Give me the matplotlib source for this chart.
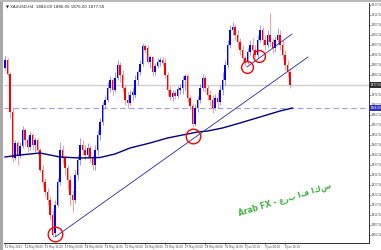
import os
import matplotlib
matplotlib.use('Agg')
import matplotlib.pyplot as plt
from matplotlib.patches import Rectangle
import matplotlib.transforms as mtransforms
from matplotlib.font_manager import FontProperties
from matplotlib.ft2font import FT2Font

symbol = "XAUUSD,H4"

opens = [1886, 1890, 1883, 1864, 1841, 1848.5, 1842, 1847, 1855, 1850,
         1846.5, 1852.5, 1847.5, 1850, 1845, 1835, 1829, 1824, 1820, 1812.5,
         1803.5, 1817.5, 1829, 1845, 1841, 1836, 1830, 1822.5, 1820, 1832.5,
         1840, 1847.5, 1845, 1842.5, 1846, 1841, 1837.5, 1845, 1852.5, 1859,
         1867.5, 1870, 1876, 1880, 1875, 1881, 1887.5, 1882.5, 1876, 1870,
         1868.5, 1872.5, 1872.5, 1880, 1884, 1888, 1897, 1896, 1889, 1891.5,
         1884, 1887, 1889, 1890, 1888.5, 1882.5, 1875, 1871.5, 1873.5, 1872,
         1875, 1876, 1880, 1882, 1871, 1867, 1858, 1866, 1870, 1876,
         1881, 1876, 1872.5, 1870, 1866, 1871, 1869, 1875, 1880, 1887.5,
         1897.5, 1905, 1906.5, 1902.5, 1899, 1895, 1891, 1889, 1894, 1897.5,
         1895, 1892.5, 1900, 1905, 1900, 1897.5, 1902.5, 1899, 1896, 1900,
         1902.5, 1897.5, 1892.5, 1887.5, 1884]
highs = [1892, 1891, 1884, 1866, 1850, 1849.5, 1849, 1857, 1856, 1852,
         1854, 1853.5, 1851.5, 1851, 1846, 1837.5, 1831, 1826, 1822, 1815,
         1820, 1831, 1849, 1847.5, 1842.5, 1837.5, 1832.5, 1825, 1835, 1842.5,
         1851, 1850, 1847.5, 1848.5, 1847.5, 1842.5, 1847.5, 1855, 1861, 1869,
         1872, 1879, 1882, 1881, 1884, 1890, 1889, 1885, 1877.5, 1874,
         1875, 1876, 1882.5, 1885, 1890, 1898.5, 1898, 1897.5, 1892.5, 1892,
         1888.5, 1891, 1891.5, 1891.5, 1891, 1884, 1877, 1875, 1875, 1877,
         1878, 1882, 1883, 1883, 1872.5, 1868.5, 1868, 1872, 1878, 1883,
         1882.5, 1877.5, 1875, 1872.5, 1873, 1874, 1877.5, 1884, 1890, 1900,
         1907.5, 1909, 1908, 1905, 1901, 1897.5, 1892.5, 1896, 1900, 1901,
         1897.5, 1902.5, 1907.5, 1906.5, 1902.5, 1905, 1913.5, 1901, 1902, 1906,
         1905, 1900, 1895, 1890, 1886]
lows = [1885, 1882, 1861, 1839, 1840, 1837.5, 1841, 1846, 1847.5, 1844,
        1845, 1845, 1844, 1842.5, 1834, 1826.5, 1822, 1817.5, 1810, 1801.5,
        1802, 1816.5, 1827.5, 1838.5, 1832.5, 1825, 1817.5, 1814, 1818.5, 1830,
        1837.5, 1842.5, 1840, 1841, 1839, 1835, 1835, 1842.5, 1850, 1857.5,
        1866, 1869, 1874, 1872.5, 1874, 1880, 1879, 1874, 1867.5, 1866,
        1867.5, 1870, 1871, 1877.5, 1882.5, 1887, 1893.5, 1888, 1886, 1882,
        1882.5, 1886, 1887, 1887, 1881, 1872.5, 1870, 1869.5, 1870.5, 1871,
        1873, 1873, 1875, 1869, 1865.5, 1856.5, 1857, 1864, 1868.5, 1874.5,
        1874, 1870, 1867, 1863.5, 1865, 1866, 1867.5, 1872.5, 1877.5, 1886,
        1896, 1902.5, 1900, 1896, 1892.5, 1889, 1887, 1888, 1892.5, 1892,
        1891, 1891, 1899, 1897.5, 1895, 1896, 1897, 1893.5, 1894, 1898,
        1895, 1890, 1885, 1881.5, 1876]
closes = [1890, 1883, 1864, 1841, 1848.5, 1842, 1847, 1855, 1850, 1846.5,
          1852.5, 1847.5, 1850, 1845, 1835, 1829, 1824, 1820, 1812.5, 1802.5,
          1817.5, 1829, 1845, 1841, 1836, 1830, 1822.5, 1820, 1832.5, 1840,
          1847.5, 1845, 1842.5, 1846, 1841, 1837.5, 1845, 1852.5, 1859, 1867.5,
          1870, 1876, 1880, 1875, 1881, 1887.5, 1882.5, 1876, 1870, 1868.5,
          1872.5, 1874, 1880, 1884, 1888, 1897, 1895, 1889, 1891.5, 1884,
          1887, 1889, 1890, 1888.5, 1882.5, 1875, 1871.5, 1873.5, 1872, 1875.5,
          1876, 1880, 1882, 1871, 1867, 1858, 1866, 1870, 1876, 1881,
          1876, 1872.5, 1870, 1866, 1871, 1869, 1875, 1880, 1887.5, 1897.5,
          1905, 1906.5, 1902.5, 1899, 1895, 1891, 1889, 1894, 1897.5, 1895,
          1892.5, 1900, 1905, 1900, 1897.5, 1902.5, 1899, 1896, 1900, 1902.5,
          1897.5, 1892.5, 1887.5, 1884, 1877.5]

# moving average readings (bar index, price)
ma_idx = [0, 6, 14, 22, 30, 38, 44, 50, 58, 65, 71, 77, 81, 87, 94, 102, 110, 115]
ma_val = [1841.5, 1842.5, 1843.5, 1841.5, 1841, 1841.25, 1843, 1846, 1848.5, 1851,
          1852.5, 1854, 1854.5, 1856, 1858.5, 1861.5, 1864.5, 1866]

# trend lines (bar index, price)
trend1_idx = [20, 121.2]
trend1_val = [1801.5, 1891.5]
trend2_idx = [96.8, 114.8]
trend2_val = [1886.5, 1903]

# circled points
circle_idx = [20, 75.2, 96.8, 101.6]
circle_val = [1803, 1852, 1886.5, 1892]

current_price = 1877.5
dashed_level = 1866.0

ytick_vals = [1917.5 - 5 * k for k in range(24)]
xtick_idx = [0, 8, 16, 24, 32, 40, 48, 56, 64, 72, 80, 88, 96, 104, 112]
xtick_labels = ["11 May 2021", "12 May 08:00", "13 May 16:00", "17 May 00:00",
                "18 May 08:00", "19 May 16:00", "21 May 00:00", "24 May 08:00",
                "25 May 16:00", "27 May 00:00", "28 May 08:00", "31 May 16:00",
                "2 Jun 00:00", "3 Jun 08:00", "4 Jun 16:00"]

watermark = "Arab FX - عرب اف اكس"

# a font file with both Latin and Arabic glyphs for the watermark
wm_prop = FontProperties(family=['DejaVu Sans'], weight='bold', style='italic')
for cand in ['/usr/share/fonts/truetype/dejavu/DejaVuSans-BoldOblique.ttf',
             '/usr/share/fonts/truetype/dejavu/DejaVuSans-Bold.ttf',
             '/usr/share/fonts/truetype/dejavu/DejaVuSans.ttf',
             '/usr/share/fonts/truetype/google-fonts/Vazirmatn[wght].ttf']:
    if os.path.exists(cand):
        try:
            cm = FT2Font(cand).get_charmap()
            if ord('\u0639') in cm and ord('A') in cm:
                wm_prop = FontProperties(fname=cand)
                break
        except Exception:
            pass

W, H = 381, 250
fig = plt.figure(figsize=(W / 100, H / 100), dpi=100, facecolor='white')
L, R, T, B = 4, 369, 3, 243
ax = fig.add_axes([L / W, (H - B) / H, (R - L) / W, (B - T) / H])
ax.set_facecolor('white')

# window borders
fig.patches.append(Rectangle((0, 0), 3 / W, 1, transform=fig.transFigure,
                             facecolor='#a8a8a8', edgecolor='none', zorder=0))
fig.patches.append(Rectangle((0, 1 - 2 / H), 1, 2 / H, transform=fig.transFigure,
                             facecolor='#b8b8b8', edgecolor='none', zorder=0))

# horizontal levels
ax.axhline(current_price, color='#d0d0d0', lw=1.0, zorder=1)
ax.axhline(dashed_level, color='#a0a0e0', lw=0.8, ls=(0, (5, 3)), zorder=1)

# candles
n = len(opens)
for i in range(n):
    o, h, l, c = opens[i], highs[i], lows[i], closes[i]
    col = '#0000ff' if c >= o else '#ff0000'
    ax.vlines(i, l, h, color=col, lw=0.5, alpha=0.55, zorder=2)
    ax.bar(i, max(abs(c - o), 0.4), bottom=min(o, c), width=0.75, color=col,
           linewidth=0, zorder=3)

# moving average
ax.plot(ma_idx, ma_val, color='#000080', lw=1.0, zorder=4)

# trend lines
ax.plot(trend1_idx, trend1_val, color='#2828a0', lw=0.6, zorder=4)
ax.plot(trend2_idx, trend2_val, color='#2828a0', lw=0.6, zorder=4)

# circles
ax.plot(circle_idx[:2], circle_val[:2], 'o', mfc='none', mec='#ff0000', mew=1.0,
        ms=10.5, zorder=5)
ax.plot(circle_idx[2:], circle_val[2:], 'o', mfc='none', mec='#ff0000', mew=1.0,
        ms=8.5, zorder=5)

ax.set_xlim(-0.4, 145.6)
ax.set_ylim(1798.5, 1918.5)

for s in ['left', 'top']:
    ax.spines[s].set_visible(False)
for s in ['right', 'bottom']:
    ax.spines[s].set_color('#303030')
    ax.spines[s].set_linewidth(0.7)

ax.yaxis.tick_right()
ax.set_yticks(ytick_vals)
ax.set_yticklabels(['%.2f' % v for v in ytick_vals], fontsize=1.9, color='#404040')
ax.tick_params(axis='y', length=1.2, width=0.4, pad=0.6, colors='#404040')
ax.set_xticks(xtick_idx)
ax.set_xticklabels(xtick_labels, fontsize=1.9, color='#404040', ha='left')
ax.tick_params(axis='x', length=1.2, width=0.4, pad=0.5, colors='#404040')

trans = mtransforms.blended_transform_factory(ax.transAxes, ax.transData)
ax.text(1.004, current_price, '%.2f' % current_price, transform=trans, fontsize=1.9,
        color='white', va='center', ha='left',
        bbox=dict(facecolor='#303030', edgecolor='none', pad=0.5))
ax.text(1.004, dashed_level, '%.2f' % dashed_level, transform=trans, fontsize=1.9,
        color='white', va='center', ha='left',
        bbox=dict(facecolor='#3030c0', edgecolor='none', pad=0.5))

# title
title = "\u25bc %s  %.2f %.2f %.2f %.2f" % (symbol, opens[-1], highs[-1], lows[-1], closes[-1])
ax.text(0.005, 0.995, title, transform=ax.transAxes, fontsize=2.8, color='#202020',
        va='top', ha='left')

# watermark
ax.text(112, 1820, watermark, fontproperties=wm_prop, fontsize=5.5, color='#40b040',
        rotation=17, ha='center', va='center', zorder=6)

fig.savefig('out.png', dpi=100, facecolor='white')
